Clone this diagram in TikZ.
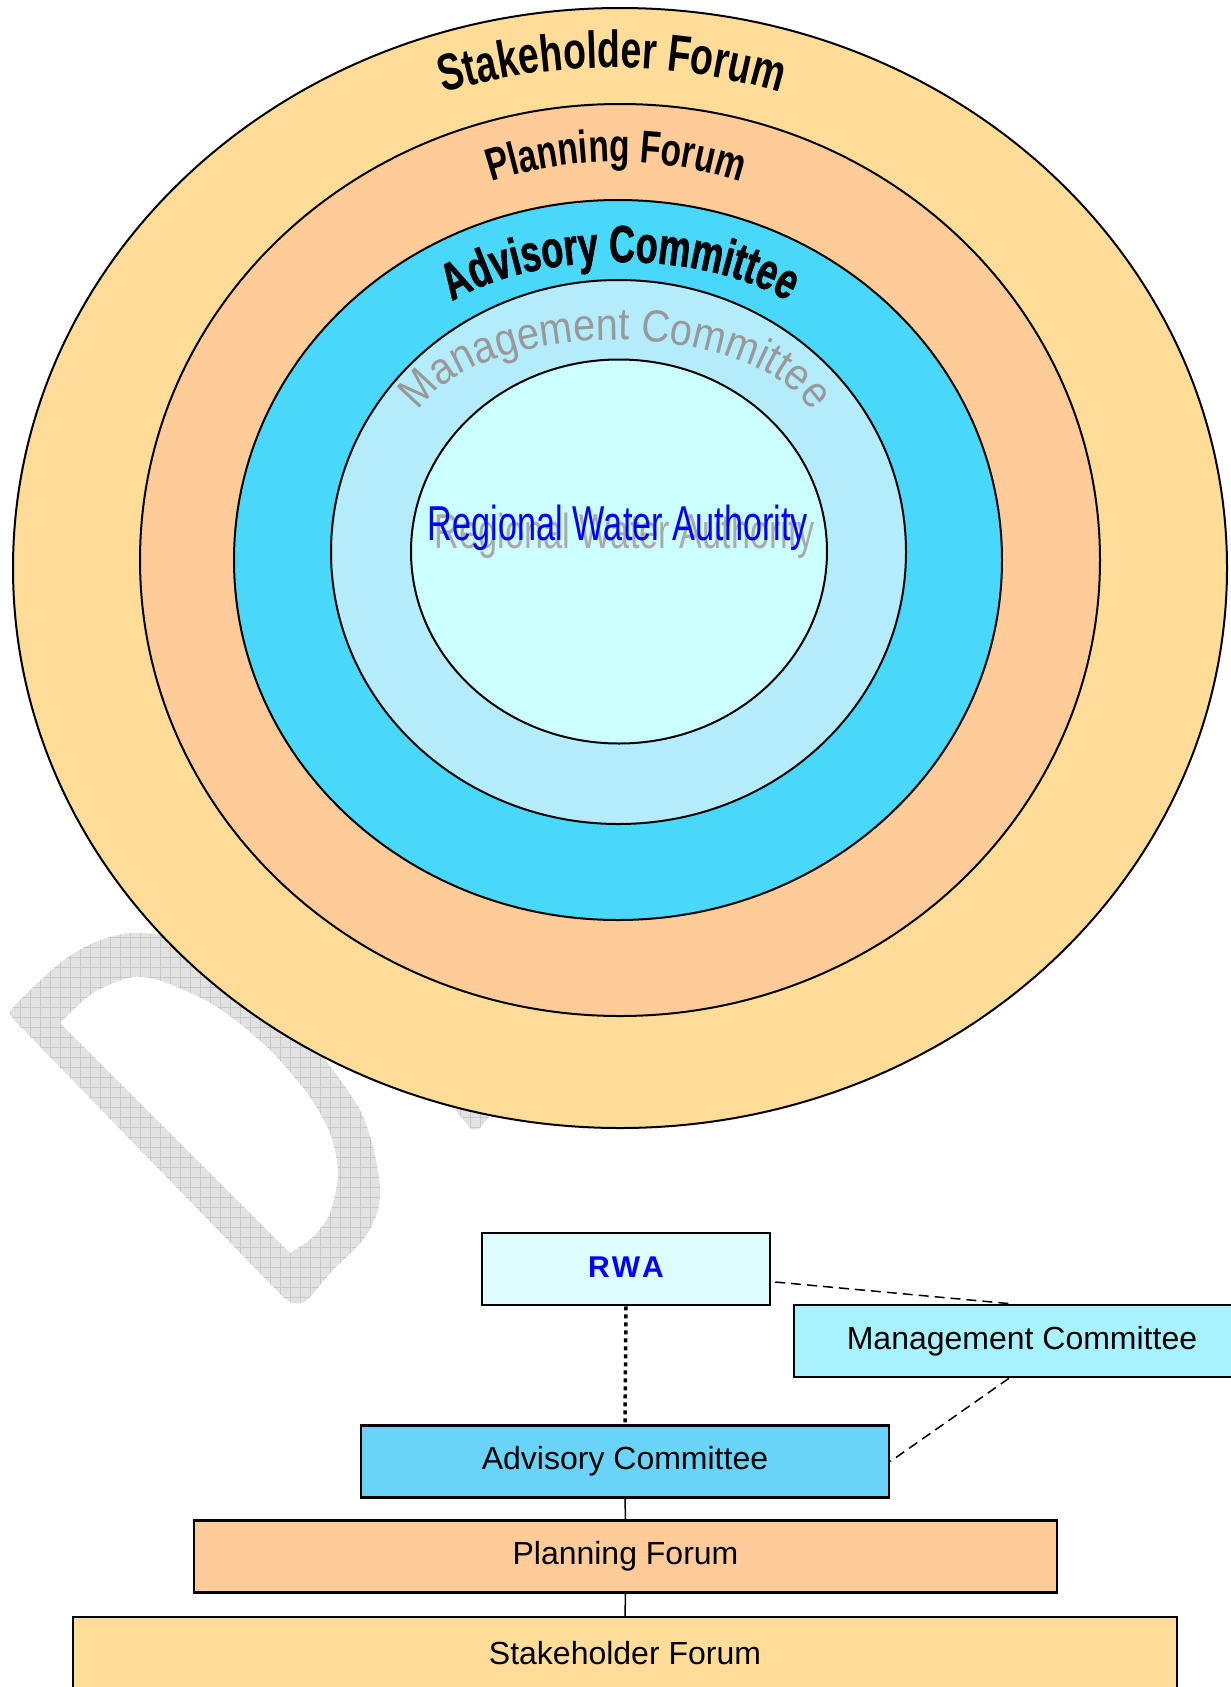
\documentclass[tikz,border=0pt]{standalone}
\usepackage{fontspec}
\setmainfont{Liberation Sans}
\newfontfamily\stakearcfont{Liberation Sans}[FakeStretch=0.72]
\newfontfamily\planarcfont{Liberation Sans}[FakeStretch=0.725]
\newfontfamily\advarcfont{Liberation Sans}[FakeStretch=0.69,BoldFeatures={FakeBold=1.2}]
\newfontfamily\mgmtarcfont{Liberation Sans}[FakeStretch=0.88]
\newfontfamily\rwafont{Liberation Sans}[FakeStretch=0.70]
\usetikzlibrary{decorations.text,patterns.meta,calc}
\definecolor{stakefill}{HTML}{FFDD99}
\definecolor{planfill}{HTML}{FFCC99}
\definecolor{advfill}{HTML}{4AD8FA}
\definecolor{mgmtfill}{HTML}{B5ECFC}
\definecolor{innerfill}{HTML}{CCFFFF}
\definecolor{rwablue}{HTML}{0000FF}
\definecolor{mgmtgray}{HTML}{999999}
\definecolor{shadowgray}{HTML}{AAAAAA}
\definecolor{rwabox}{HTML}{DDFDFF}
\definecolor{mgmtbox}{HTML}{A8F2FF}
\definecolor{advbox}{HTML}{6AD4F8}
\definecolor{wmfill}{HTML}{E2E2E2}
\definecolor{wmline}{HTML}{C8C8C8}
\begin{document}
\begin{tikzpicture}[x=1pt,y=-1pt,
  ring/.style={draw=black, line width=2pt},
  wm/.style={fill=wmfill, even odd rule,
    postaction={pattern={Lines[distance=10pt,angle=0,line width=0.6pt]}, pattern color=wmline, even odd rule},
    postaction={pattern={Lines[distance=10pt,angle=90,line width=0.6pt]}, pattern color=wmline, even odd rule}},
  boxbase/.style={draw=black, line width=2.5pt, minimum height=72pt, inner sep=0pt, font=\fontsize{32}{38}\selectfont},
  dotconn/.style={line width=3.5pt, dash pattern=on 4pt off 4pt},
  dashconn/.style={line width=1.5pt, dash pattern=on 10pt off 6pt},
  solidconn/.style={line width=1.5pt}]
\useasboundingbox (0,0) rectangle (1231,1687);
% watermark letter
\path[wm] plot[smooth] coordinates {(283,1297) (293,1303) (307,1300) (333,1270) (363,1240) (377,1213) (380,1187) (373,1147) (360,1110) (333,1070) (300,1030) (250,987) (200,958) (167,937) (130,933) (93,943) (60,963) (20,1000) (10,1013) (17,1023)} -- cycle
  plot[smooth] coordinates {(290,1253) (313,1237) (330,1213) (338,1173) (330,1133) (307,1093) (267,1047) (217,1007) (167,983) (133,977) (93,993) (60,1023)} -- cycle;
\path[wm] (447,1100) -- (503,1100) -- (479,1129) -- (471,1129) -- cycle;
% concentric ellipses
\draw[ring, fill=stakefill] (620,568) ellipse [x radius=607, y radius=560];
\draw[ring, fill=planfill] (620,560) ellipse [x radius=480, y radius=456];
\draw[ring, fill=advfill] (618,560) ellipse [x radius=384, y radius=360];
\draw[ring, fill=mgmtfill] (618.5,552) ellipse [x radius=287.5, y radius=272];
\draw[ring, fill=innerfill] (619,551.5) ellipse [x radius=208, y radius=192];
% arched titles
\path[decorate, decoration={text along path, text align=center,
  text={|\stakearcfont\bfseries\fontsize{52}{60}\selectfont|Stakeholder Forum}}]
  ($(612,648)+(195:580)$) arc[start angle=195, end angle=345, radius=580];
\path[decorate, decoration={text along path, text align=center,
  text={|\planarcfont\bfseries\fontsize{46}{54}\selectfont|Planning Forum}}]
  ($(616,562)+(200:400)$) arc[start angle=200, end angle=340, radius=400];
\path[decorate, decoration={text along path, text align=center,
  text={|\advarcfont\bfseries\fontsize{52}{60}\selectfont|Advisory Committee}}]
  ($(620,367)+(170:215 and 105)$) arc[start angle=170, end angle=370, x radius=215, y radius=105];
\path[decorate, decoration={text along path, text align=center,
  text={|\color{mgmtgray}\mgmtarcfont\fontsize{45}{54}\selectfont|Management Committee}}]
  ($(615,440)+(170:205 and 100)$) arc[start angle=170, end angle=370, x radius=205, y radius=100];
% central label with shadow
\node[anchor=base, text=shadowgray, font=\rwafont\fontsize{49}{56}\selectfont] (rwashadow) at (625,548) {Regional Water Authority};
\node[anchor=base, text=rwablue, font=\rwafont\fontsize{49}{56}\selectfont] (rwatitle) at (618,540) {Regional Water Authority};
% organisation chart
\node[boxbase, fill=rwabox, minimum width=288pt, text=rwablue, font=\bfseries\fontsize{30}{36}\selectfont] (rwa) at (626,1269) {\raisebox{4pt}{R\kern2pt W\kern2pt A}};
\node[boxbase, fill=mgmtbox, minimum width=456pt] (mgmt) at (1022,1341) {Management Committee};
\node[boxbase, fill=advbox, minimum width=528pt] (adv) at (625,1461.5) {Advisory Committee};
\node[boxbase, fill=planfill, minimum width=863pt] (plan) at (625.5,1556.5) {Planning Forum};
\node[boxbase, fill=stakefill, minimum width=1104pt] (stake) at (625,1653) {Stakeholder Forum};
\draw[dotconn] (rwa.south) -- (adv.north);
\draw[dashconn] ([xshift=4pt,yshift=-13pt]rwa.east) -- ([xshift=-11pt]mgmt.north);
\draw[dashconn] ([xshift=-13pt]mgmt.south) -- (adv.east);
\draw[solidconn] (adv.south) -- (plan.north);
\draw[solidconn] (plan.south) -- (stake.north);
\end{tikzpicture}
\end{document}
